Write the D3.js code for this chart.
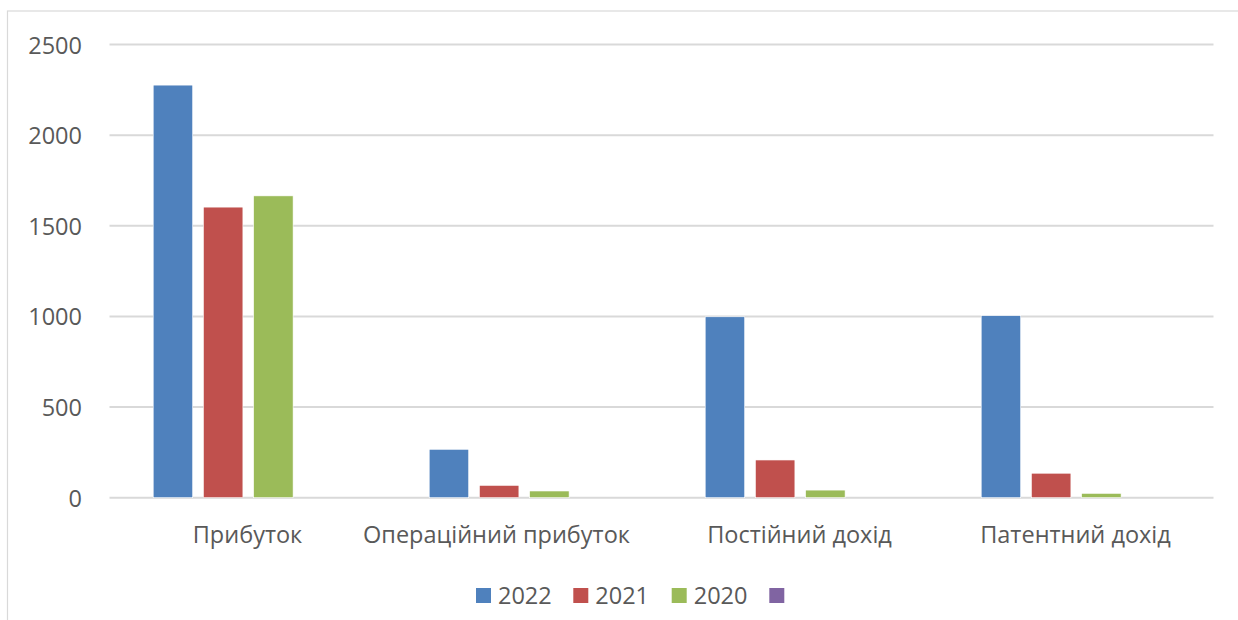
<!DOCTYPE html>
<html>
<head>
<meta charset="utf-8">
<script src="https://cdn.jsdelivr.net/npm/d3@7"></script>
<style>
  html, body { margin: 0; padding: 0; background: #fff; }
  svg text { font-family: "Open Sans", "Noto Sans", sans-serif; fill: #595959; }
</style>
</head>
<body>
<svg id="chart" width="1238" height="620"></svg>
<script>
// Categories and yearly series
const categories = ["Прибуток", "Операційний прибуток", "Постійний дохід", "Патентний дохід"];
const seriesNames = ["2022", "2021", "2020", ""];
const values2022 = [2276, 267, 998, 1004];
const values2021 = [1603, 68, 208, 135];
const values2020 = [1665, 37, 42, 24];
const valuesEmpty = [null, null, null, null];
const seriesColors = ["#4f81bd", "#c0504d", "#9bbb59", "#8064a2"];
const yTicks = [0, 500, 1000, 1500, 2000, 2500];

const seriesValues = [values2022, values2021, values2020, valuesEmpty];

const svg = d3.select("#chart");
const W = 1238, H = 620;
const plot = { left: 109.5, right: 1213.5, top: 44.5, bottom: 497.7 };

// outer chart frame (runs off the right and bottom edges)
svg.append("rect")
  .attr("x", 7.5).attr("y", 11)
  .attr("width", W + 20).attr("height", H + 20)
  .attr("fill", "#fff").attr("stroke", "#d9d9d9").attr("stroke-width", 1.2);

const x0 = d3.scaleBand().domain(categories).range([plot.left, plot.right]).paddingInner(0).paddingOuter(0);
const y = d3.scaleLinear().domain([0, 2500]).range([plot.bottom, plot.top]);

// bar slots inside a category: series index -> left offset
const catW = x0.bandwidth();
const barW = 39.5;
const x1 = d3.scaleLinear().domain([0, 1]).range([43.7, 43.7 + 50.2]);

// gridlines
svg.append("g")
  .selectAll("line")
  .data(yTicks)
  .join("line")
  .attr("x1", plot.left).attr("x2", plot.right)
  .attr("y1", d => y(d)).attr("y2", d => y(d))
  .attr("stroke", "#d9d9d9").attr("stroke-width", 2);

// y tick labels
svg.append("g")
  .selectAll("text")
  .data(yTicks)
  .join("text")
  .attr("x", 82).attr("y", d => y(d) + 9)
  .attr("text-anchor", "end")
  .attr("font-size", 23.5)
  .text(d => d);

// bars
const barData = [];
categories.forEach((c, ci) => {
  seriesValues.forEach((vals, si) => {
    if (vals[ci] != null) barData.push({ cat: c, s: si, v: vals[ci] });
  });
});

svg.append("g")
  .selectAll("rect")
  .data(barData)
  .join("rect")
  .attr("x", d => x0(d.cat) + x1(d.s))
  .attr("width", barW)
  .attr("y", d => y(d.v))
  .attr("height", d => y(0) - y(d.v))
  .attr("fill", d => seriesColors[d.s])
  .attr("stroke", "#fff").attr("stroke-width", 0.6);

// category labels (the long second label sits a little left of centre)
const labelShift = { "Операційний прибуток": -27 };
svg.append("g")
  .selectAll("text")
  .data(categories)
  .join("text")
  .attr("x", d => x0(d) + catW / 2 + (labelShift[d] || 0))
  .attr("y", 543)
  .attr("text-anchor", "middle")
  .attr("font-size", 23.5)
  .text(d => d);

// legend
const legendX = [476, 573.3, 671.7, 769.3];
const legend = svg.append("g")
  .selectAll("g")
  .data(seriesNames)
  .join("g")
  .attr("transform", (d, i) => `translate(${legendX[i]},588)`);
legend.append("rect")
  .attr("width", 15).attr("height", 15)
  .attr("fill", (d, i) => seriesColors[i]);
legend.append("text")
  .attr("x", 22).attr("y", 16.3)
  .attr("font-size", 23.5)
  .text(d => d);
</script>
</body>
</html>
